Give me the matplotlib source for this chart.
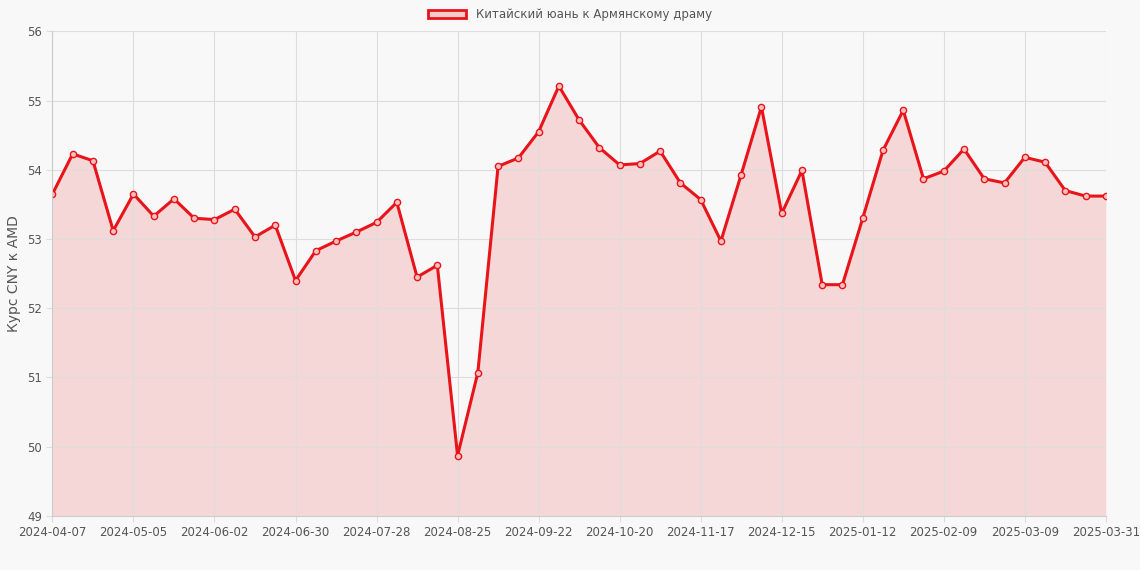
import matplotlib
matplotlib.use("Agg")
import matplotlib.pyplot as plt
import pandas as pd
from matplotlib.patches import Patch

dates = [d.strftime("%Y-%m-%d") for d in pd.date_range("2024-04-07", periods=52, freq="7D")] + ["2025-03-31"]
values = [53.65, 54.23, 54.13, 53.12, 53.65, 53.33, 53.58, 53.30, 53.28, 53.43,
          53.03, 53.20, 52.40, 52.83, 52.97, 53.10, 53.24, 53.53, 52.45, 52.62,
          49.87, 51.07, 54.05, 54.17, 54.55, 55.21, 54.72, 54.32, 54.07, 54.09,
          54.27, 53.81, 53.57, 52.97, 53.93, 54.91, 53.37, 53.99, 52.34, 52.34,
          53.30, 54.28, 54.86, 53.87, 53.98, 54.30, 53.87, 53.81, 54.18, 54.11,
          53.70, 53.62, 53.62]
label = "Китайский юань к Армянскому драму"
ylabel = "Курс CNY к AMD"

bg = "#f8f8f8"
fig = plt.figure(figsize=(11.4, 5.7), dpi=100, facecolor=bg)
ax = fig.add_axes([0.046, 0.095, 0.924, 0.85], facecolor=bg)
x = list(range(len(values)))
ax.fill_between(x, values, 49, color="#f5cccc", alpha=0.75, linewidth=0)
ax.plot(x, values, color="#e8141a", linewidth=2.2, marker="o", markersize=4.5,
        markerfacecolor="#f5c0c0", markeredgecolor="#e8141a", markeredgewidth=1)
ax.set_xlim(0, len(values) - 1)
ax.set_ylim(49, 56)
ticks = list(range(0, len(values) - 1, 4)) + [len(values) - 1]
ax.set_xticks(ticks)
ax.set_xticklabels([dates[i] for i in ticks], fontsize=8.5, color="#555")
ax.set_yticks(range(49, 57))
ax.tick_params(axis="y", labelsize=8.5, colors="#555")
ax.tick_params(length=4, color="#ddd")
ax.grid(True, color="#dddddd", linewidth=0.8)
for s in ["top", "right"]:
    ax.spines[s].set_visible(False)
for s in ["left", "bottom"]:
    ax.spines[s].set_color("#cccccc")
ax.set_ylabel(ylabel, fontsize=10, color="#555")
fig.legend(handles=[Patch(facecolor="#f5cccc", edgecolor="#e8141a", linewidth=2, label=label)],
           loc="upper center", bbox_to_anchor=(0.5, 1.005), frameon=False, fontsize=8.5,
           handlelength=3.2, labelcolor="#555")
fig.savefig("out.png", dpi=100, facecolor=bg)
